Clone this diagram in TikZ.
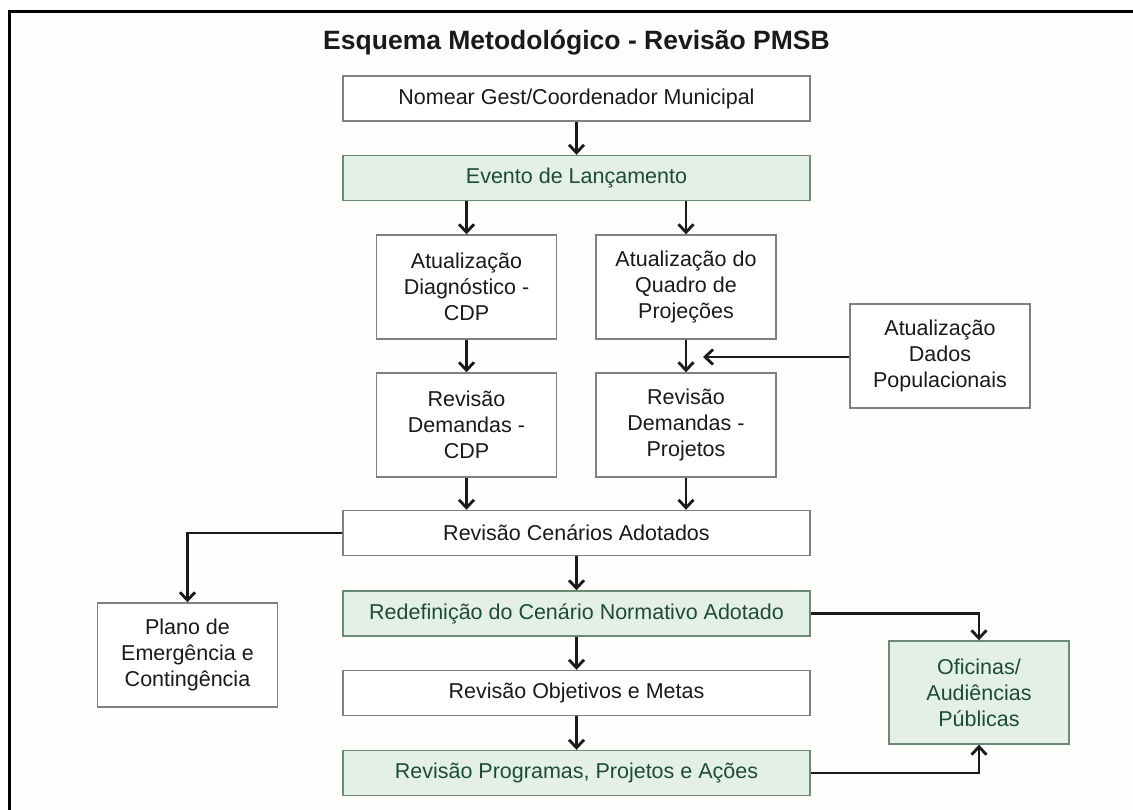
\documentclass[tikz,border=0pt]{standalone}
\usepackage{fontspec}
\setmainfont{Liberation Sans}
\usetikzlibrary{arrows.meta, positioning}
\definecolor{paper}{RGB}{253,253,251}
\definecolor{boxline}{RGB}{128,128,128}
\definecolor{inkdark}{RGB}{26,26,26}
\definecolor{stepgreen}{RGB}{228,240,230}
\definecolor{stepgreenline}{RGB}{108,138,118}
\definecolor{stepgreentext}{RGB}{28,76,56}

\begin{document}
\begin{tikzpicture}[x=1pt, y=-1pt,
    box/.style={draw=boxline, line width=1.4pt, fill=white, align=center, inner sep=0pt,
        text=inkdark, font=\fontsize{21.5}{26}\selectfont},
    widebox/.style={box, minimum width=467pt, minimum height=45pt},
    tallbox/.style={box, minimum width=180pt, minimum height=104pt},
    greenbox/.style={fill=stepgreen, draw=stepgreenline, text=stepgreentext},
    flow/.style={-{Straight Barb[length=8pt, width=15pt]}, line width=2.8pt, inkdark}
]
    % page and frame
    \clip (0,0) rectangle (1133,810);
    \fill[white] (0,0) rectangle (1133,810);
    \draw[line width=3pt, fill=paper] (9,12) rectangle (1150,830);

    % title
    \node[font=\bfseries\fontsize{26.5}{32}\selectfont, text=inkdark] (title) at (576.5,43) {Esquema Metodológico - Revisão PMSB};

    % main column
    \node[widebox] (nomear) at (576.5,98.5) {Nomear Gest/Coordenador Municipal};
    \node[widebox, greenbox] (evento) at (576.5,178) {Evento de Lançamento};
    \node[tallbox] (diag) at (466.5,287) {Atualização\\Diagnóstico -\\CDP};
    \node[tallbox] (quadro) at (686,287) {Atualização do\\Quadro de\\Projeções};
    \node[tallbox] (dados) at (940,356) {Atualização\\Dados\\Populacionais};
    \node[tallbox] (demcdp) at (466.5,425) {Revisão\\Demandas -\\CDP};
    \node[tallbox] (demproj) at (686,425) {Revisão\\Demandas -\\Projetos};
    \node[widebox] (cenarios) at (576.5,533) {Revisão Cenários Adotados};
    \node[tallbox] (plano) at (187.5,655) {Plano de\\Emergência e\\Contingência};
    \node[widebox, greenbox] (redef) at (576.5,613.5) {Redefinição do Cenário Normativo Adotado};
    \node[widebox] (objetivos) at (576.5,693) {Revisão Objetivos e Metas};
    \node[widebox, greenbox] (programas) at (576.5,773) {Revisão Programas, Projetos e Ações};
    \node[tallbox, greenbox, minimum height=103pt] (oficinas) at (979,692.5) {Oficinas/\\Audiências\\Públicas};

    % connectors
    \coordinate (meet) at (703,357);
    \draw[flow] (nomear) -- (evento);
    \draw[flow] (evento.south -| diag.north) -- (diag);
    \draw[flow] (evento.south -| quadro.north) -- (quadro);
    \draw[flow] (diag) -- (demcdp);
    \draw[flow] (quadro) -- (demproj);
    \draw[flow] (dados.west |- meet) -- (meet);
    \draw[flow] (demcdp) -- (demcdp |- cenarios.north);
    \draw[flow] (demproj) -- (demproj |- cenarios.north);
    \draw[flow] (cenarios.west) -| (plano.north);
    \draw[flow] (cenarios) -- (redef);
    \draw[flow] (redef) -- (objetivos);
    \draw[flow] (objetivos) -- (programas);
    \draw[flow] (redef.east) -| (oficinas.north);
    \draw[flow] (programas.east) -| (oficinas.south);
\end{tikzpicture}
\end{document}
